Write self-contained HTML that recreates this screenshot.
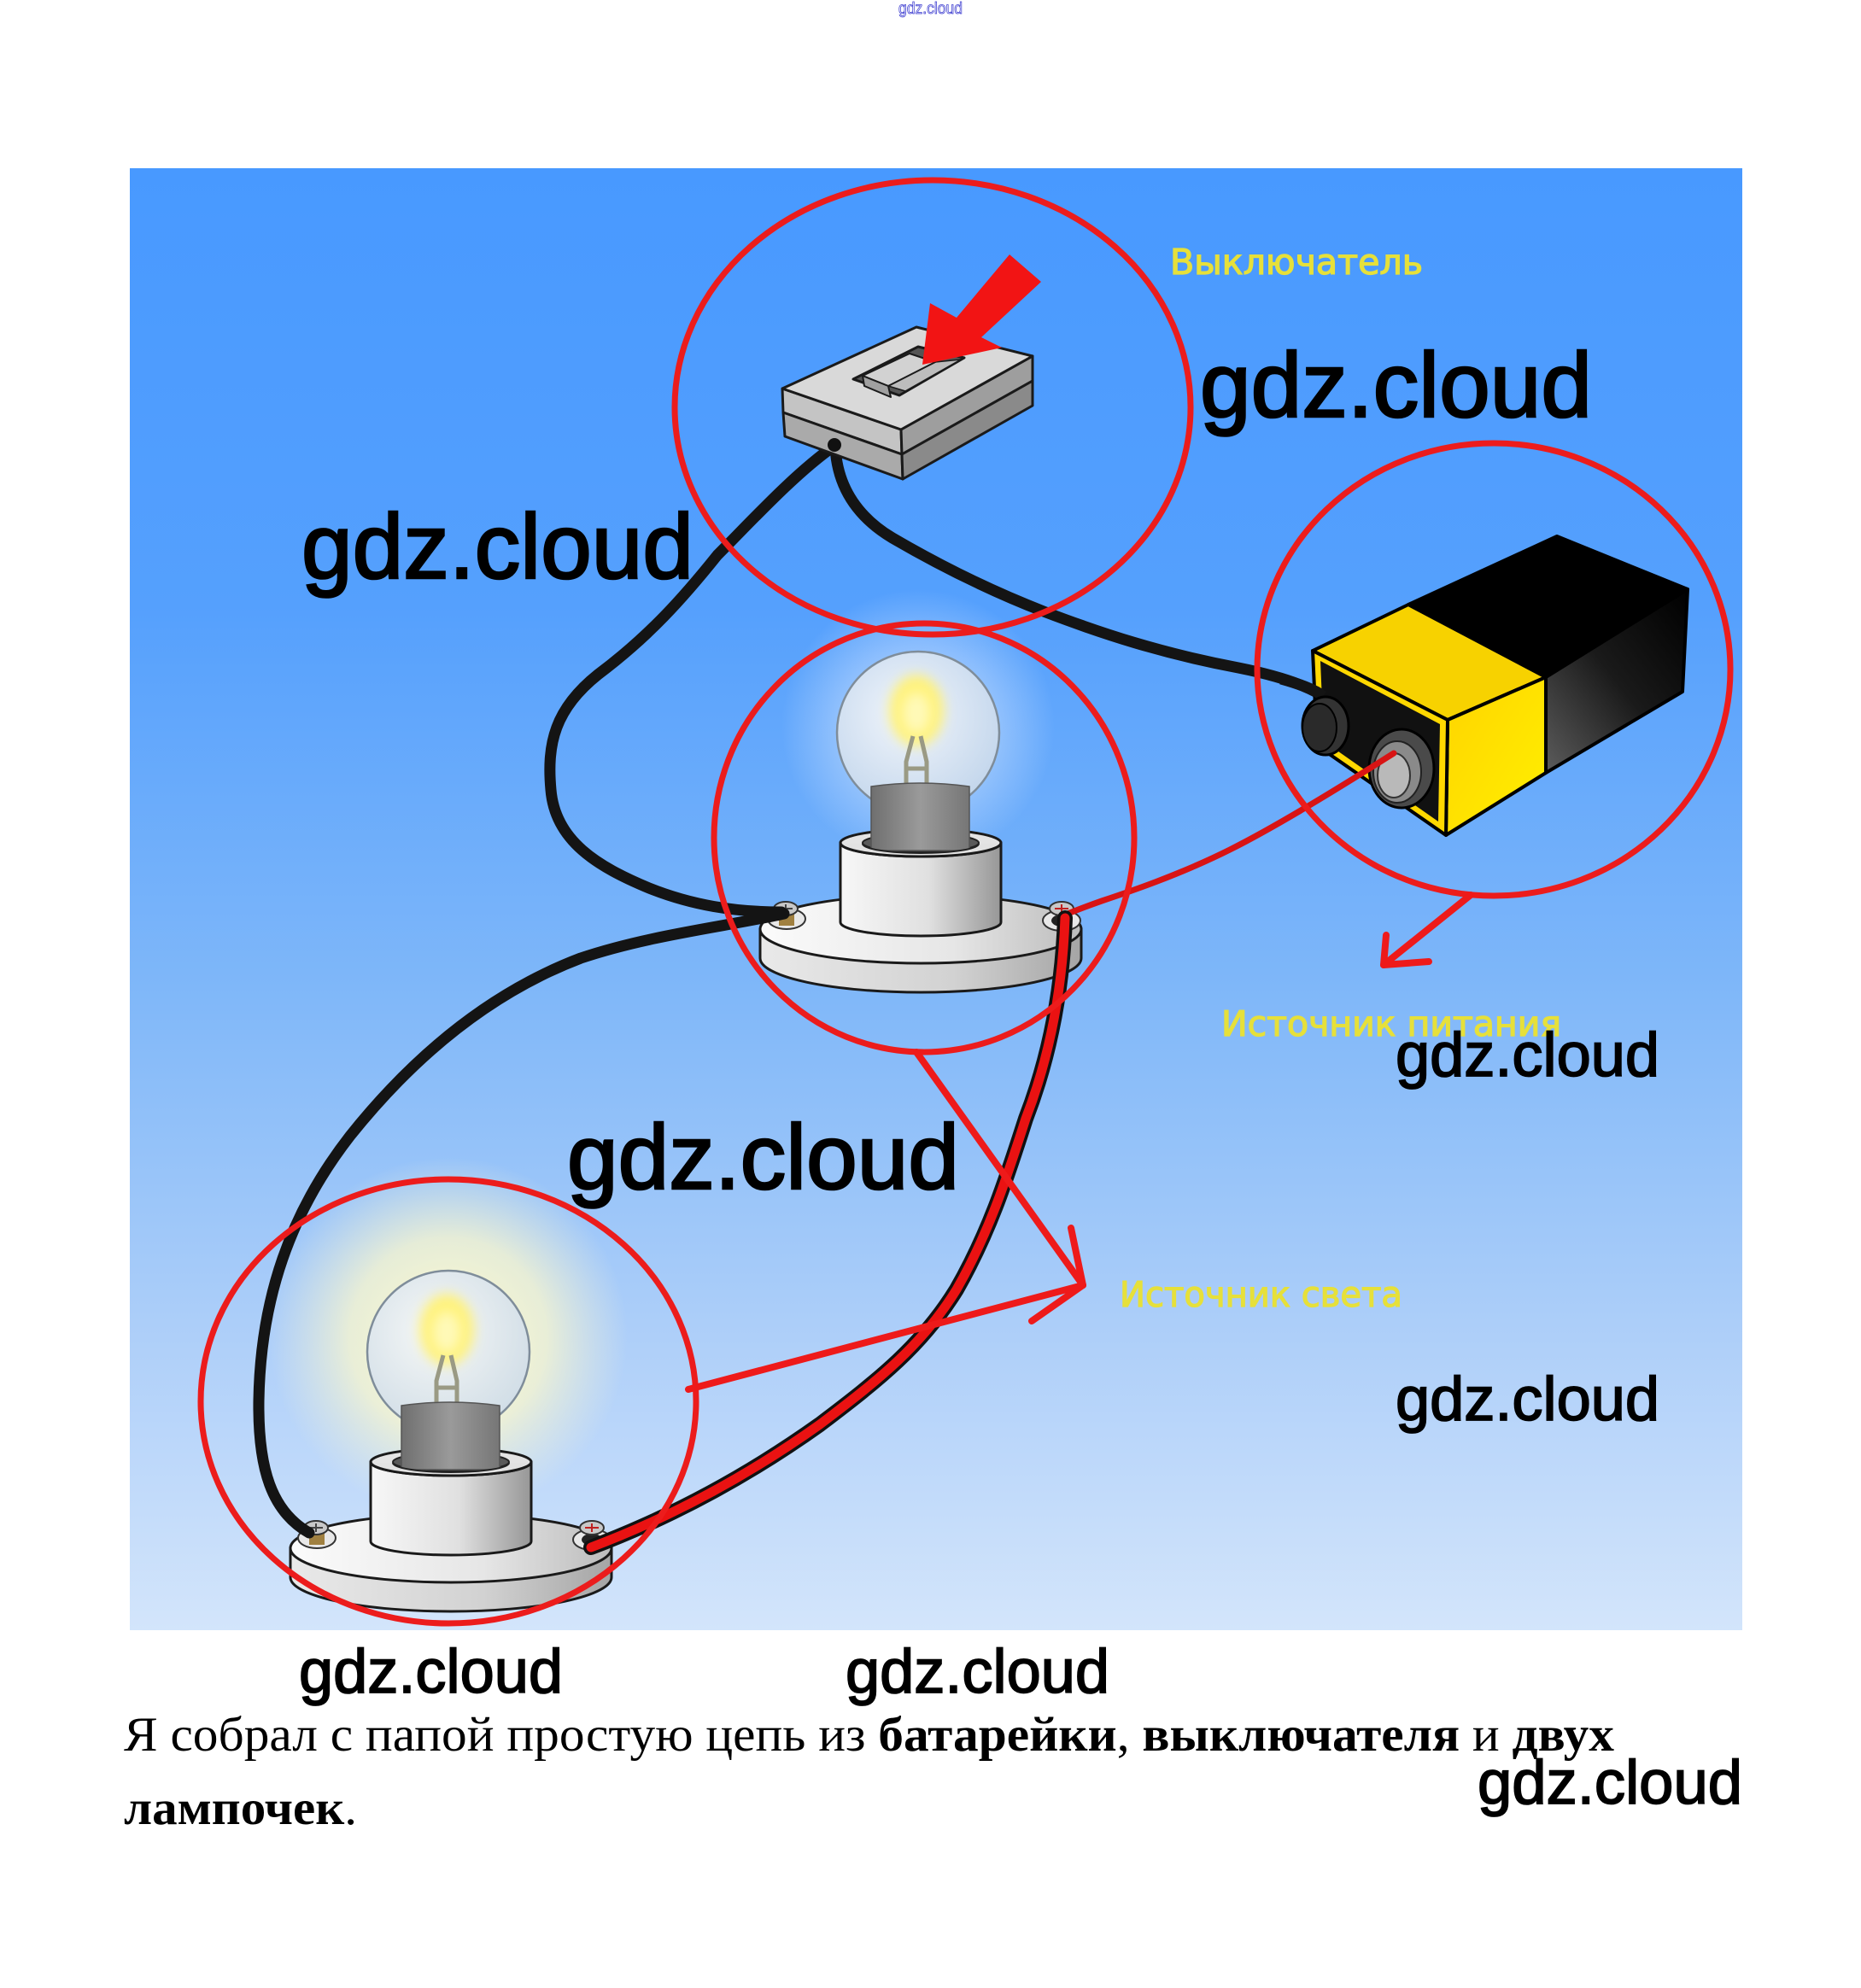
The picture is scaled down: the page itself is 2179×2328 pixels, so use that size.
<!DOCTYPE html>
<html><head><meta charset="utf-8"><style>
html,body{margin:0;padding:0;background:#fff;}
svg{display:block;}
</style></head><body>
<svg width="2179" height="2328" viewBox="0 0 2179 2328" xmlns="http://www.w3.org/2000/svg">
<defs>
 <linearGradient id="bg" x1="0" y1="0" x2="0" y2="1">
  <stop offset="0" stop-color="#4899ff"/>
  <stop offset="0.3" stop-color="#55a0fd"/>
  <stop offset="0.55" stop-color="#7db6f9"/>
  <stop offset="0.8" stop-color="#aecff9"/>
  <stop offset="1" stop-color="#d3e5fb"/>
 </linearGradient>
 <radialGradient id="glow1" cx="0.5" cy="0.5" r="0.5">
  <stop offset="0" stop-color="#f2f6ff" stop-opacity="0.75"/>
  <stop offset="0.6" stop-color="#e4eeff" stop-opacity="0.35"/>
  <stop offset="1" stop-color="#e4eeff" stop-opacity="0"/>
 </radialGradient>
 <radialGradient id="glow2" cx="0.5" cy="0.5" r="0.5">
  <stop offset="0" stop-color="#fffbd0" stop-opacity="1"/>
  <stop offset="0.55" stop-color="#fcf8cc" stop-opacity="0.75"/>
  <stop offset="1" stop-color="#f4f2d8" stop-opacity="0"/>
 </radialGradient>
 <radialGradient id="globe" cx="0.42" cy="0.38" r="0.7">
  <stop offset="0" stop-color="#f6f8fb" stop-opacity="0.9"/>
  <stop offset="1" stop-color="#c9d8e8" stop-opacity="0.85"/>
 </radialGradient>
 <linearGradient id="cap" x1="0" y1="0" x2="1" y2="0">
  <stop offset="0" stop-color="#6f6f6f"/>
  <stop offset="0.5" stop-color="#9a9a9a"/>
  <stop offset="1" stop-color="#767676"/>
 </linearGradient>
 <linearGradient id="sock" x1="0" y1="0" x2="1" y2="0">
  <stop offset="0" stop-color="#f7f7f7"/>
  <stop offset="0.55" stop-color="#e0e0e0"/>
  <stop offset="1" stop-color="#979797"/>
 </linearGradient>
 <linearGradient id="plateTop" x1="0" y1="0" x2="1" y2="0">
  <stop offset="0" stop-color="#fbfbfb"/>
  <stop offset="0.6" stop-color="#e6e6e6"/>
  <stop offset="1" stop-color="#bcbcbc"/>
 </linearGradient>
 <linearGradient id="plateSide" x1="0" y1="0" x2="1" y2="0">
  <stop offset="0" stop-color="#e9e9e9"/>
  <stop offset="0.6" stop-color="#d2d2d2"/>
  <stop offset="1" stop-color="#a5a5a5"/>
 </linearGradient>
 <linearGradient id="battSide" x1="0" y1="1" x2="1" y2="0">
  <stop offset="0" stop-color="#5c5c5c"/>
  <stop offset="0.5" stop-color="#1a1a1a"/>
  <stop offset="1" stop-color="#000"/>
 </linearGradient>
 <linearGradient id="yelSide" x1="0" y1="0" x2="1" y2="1">
  <stop offset="0" stop-color="#ffd400"/>
  <stop offset="1" stop-color="#fff000"/>
 </linearGradient>
 <filter id="blur6" x="-50%" y="-50%" width="200%" height="200%"><feGaussianBlur stdDeviation="7"/></filter>

 <g id="bulb">
  <path d="M890,1088 L890,1122 A188,40 0 0 0 1266,1122 L1266,1088 Z" fill="url(#plateSide)" stroke="#1a1a1a" stroke-width="3"/>
  <ellipse cx="1078" cy="1088" rx="188" ry="40" fill="url(#plateTop)" stroke="#1a1a1a" stroke-width="3"/>
  <ellipse cx="921" cy="1076" rx="22" ry="12" fill="#e8e8e8" stroke="#333" stroke-width="2"/>
  <rect x="912" y="1066" width="18" height="18" fill="#a08040"/>
  <ellipse cx="920" cy="1064" rx="14" ry="8" fill="#c8c8c8" stroke="#333" stroke-width="2"/>
  <path d="M912,1064 L928,1064 M920,1059 L920,1069" stroke="#444" stroke-width="2"/>
  <ellipse cx="1243" cy="1078" rx="22" ry="12" fill="#e8e8e8" stroke="#333" stroke-width="2"/>
  <ellipse cx="1243" cy="1078" rx="12" ry="7" fill="#222"/>
  <ellipse cx="1243" cy="1064" rx="14" ry="8" fill="#c8c8c8" stroke="#333" stroke-width="2"/>
  <path d="M1235,1064 L1251,1064 M1243,1059 L1243,1069" stroke="#c02020" stroke-width="2"/>
  <circle cx="1075" cy="858" r="95" fill="url(#globe)" stroke="#7f8d9a" stroke-width="2.5"/>
  <ellipse cx="1073" cy="832" rx="32" ry="42" fill="#fff27a" filter="url(#blur6)"/>
  <ellipse cx="1073" cy="835" rx="16" ry="24" fill="#fff9b8" filter="url(#blur6)"/>
  <path d="M1061,920 L1061,892 L1069,862 M1085,920 L1085,892 L1078,862 M1061,900 L1085,900" stroke="#9a9a84" stroke-width="5" fill="none"/>
  <path d="M984,987 L984,1080 A94,16 0 0 0 1172,1080 L1172,987 Z" fill="url(#sock)" stroke="#1a1a1a" stroke-width="3"/>
  <ellipse cx="1078" cy="987" rx="94" ry="16" fill="#e4e4e4" stroke="#1a1a1a" stroke-width="3"/>
  <ellipse cx="1078" cy="987" rx="68" ry="11" fill="#5a5a5a" stroke="#222" stroke-width="2"/>
  <path d="M1020,921 Q1077,913 1135,921 L1135,996 L1020,996 Z" fill="url(#cap)" stroke="#555" stroke-width="1.5"/>
  <path d="M986,988 A92,15 0 0 0 1170,988 L1146,988 A68,11 0 0 1 1010,988 Z" fill="#e2e2e2"/>
  <path d="M1010,988 A68,11 0 0 0 1146,988" fill="none" stroke="#222" stroke-width="2"/>
  <path d="M984,987 A94,16 0 0 0 1172,987" fill="none" stroke="#1a1a1a" stroke-width="3"/>
 </g>
</defs>

<rect x="0" y="0" width="2179" height="2328" fill="#fff"/>
<rect x="152" y="197" width="1888" height="1712" fill="url(#bg)"/>

<text x="1052" y="16" font-family="Liberation Sans, sans-serif" font-size="19" fill="none" stroke="#3d3dd0" stroke-width="0.8" textLength="75" lengthAdjust="spacingAndGlyphs">gdz.cloud</text>

<circle cx="1075" cy="850" r="160" fill="url(#glow1)"/>
<circle cx="525" cy="1565" r="210" fill="url(#glow2)"/>

<use href="#bulb"/>
<use href="#bulb" transform="translate(-550,725)"/>

<g fill="none" stroke="#141414" stroke-width="13" stroke-linecap="round">
 <path d="M977,522 C930,555 880,610 840,650 C800,700 760,745 700,790 C650,830 640,870 645,925 C650,985 700,1015 760,1040 C810,1060 860,1068 915,1068"/>
 <path d="M978,524 C980,560 995,600 1045,630 C1100,662 1160,692 1222,716 C1290,742 1360,765 1450,782 C1500,792 1530,803 1549,815"/>
 <path d="M918,1070 C850,1085 760,1095 680,1122 C580,1160 490,1230 410,1330 C340,1420 305,1520 303,1640 C302,1720 318,1770 362,1795"/>
</g>

<g stroke="#000" stroke-width="4" stroke-linejoin="round">
 <path d="M1649,708 L1823,628 L1976,690 L1810,793 Z" fill="#000"/>
 <path d="M1810,793 L1976,690 L1970,810 L1810,905 Z" fill="url(#battSide)"/>
 <path d="M1537,762 L1649,708 L1810,793 L1695,843 Z" fill="#f7d200"/>
 <path d="M1695,843 L1810,793 L1810,905 L1693,978 Z" fill="url(#yelSide)"/>
 <path d="M1537,762 L1695,843 L1693,978 L1542,873 Z" fill="#ffd800"/>
</g>
<path d="M1546,774 L1686,848 L1684,962 L1550,868 Z" fill="#111"/>
<path d="M1500,795 C1525,802 1540,808 1549,815" stroke="#141414" stroke-width="13" fill="none"/>
<ellipse cx="1552" cy="850" rx="27" ry="34" fill="#333" stroke="#000" stroke-width="3"/>
<ellipse cx="1545" cy="852" rx="20" ry="28" fill="#2a2a2a" stroke="#000" stroke-width="2"/>
<ellipse cx="1641" cy="900" rx="38" ry="46" fill="#4a4a4a" stroke="#000" stroke-width="3"/>
<ellipse cx="1636" cy="904" rx="28" ry="36" fill="#8a8a8a" stroke="#222" stroke-width="2"/>
<ellipse cx="1632" cy="908" rx="19" ry="26" fill="#b9b9b9" stroke="#333" stroke-width="2"/>

<path d="M1632,882 C1580,915 1500,965 1440,995 C1380,1025 1320,1045 1290,1055 C1270,1062 1255,1068 1245,1072" fill="none" stroke="#d81414" stroke-width="7" stroke-linecap="round"/>
<path d="M1247,1075 C1244,1160 1228,1240 1201,1310 C1180,1375 1160,1440 1120,1510 C1080,1575 1030,1615 960,1668 C880,1725 790,1775 692,1812" fill="none" stroke="#111" stroke-width="18" stroke-linecap="round"/>
<path d="M1247,1075 C1244,1160 1228,1240 1201,1310 C1180,1375 1160,1440 1120,1510 C1080,1575 1030,1615 960,1668 C880,1725 790,1775 692,1812" fill="none" stroke="#ea1212" stroke-width="11" stroke-linecap="round"/>

<g stroke="#1a1a1a" stroke-width="3" stroke-linejoin="round">
 <path d="M916,455 L1055,503 L1056,532 L917,483 Z" fill="#c4c4c4"/>
 <path d="M917,483 L1056,532 L1057,561 L919,511 Z" fill="#aaaaaa"/>
 <path d="M1055,503 L1209,417 L1209,446 L1056,532 Z" fill="#9e9e9e"/>
 <path d="M1056,532 L1209,446 L1209,475 L1057,561 Z" fill="#8a8a8a"/>
 <path d="M916,455 L1073,383 L1209,417 L1055,503 Z" fill="#d9d9d9"/>
 <path d="M999,444 L1075,406 L1129,419 L1053,463 Z" fill="#555"/>
 <path d="M1040,452 L1095,424 L1125,421 L1060,458 Z" fill="#bdbdbd" stroke-width="1.5"/>
 <path d="M1010,440 L1065,414 L1095,424 L1040,452 Z" fill="#d2d2d2" stroke-width="2"/>
 <path d="M1010,440 L1040,452 L1043,465 L1012,452 Z" fill="#a0a0a0" stroke-width="2"/>
</g>
<circle cx="977" cy="521" r="8" fill="#111"/>
<path d="M1080,427 L1089,355 L1120,372 L1182,298 L1219,330 L1149,395 L1173,407 Z" fill="#f21414"/>

<g fill="none" stroke="#ec1c1c" stroke-width="7">
 <ellipse cx="1092" cy="477" rx="302" ry="266"/>
 <ellipse cx="1082" cy="981" rx="246" ry="251"/>
 <ellipse cx="1749" cy="784" rx="277" ry="265"/>
 <ellipse cx="525" cy="1641" rx="290" ry="260"/>
</g>
<g fill="none" stroke="#ee1a1a" stroke-width="8" stroke-linecap="round" stroke-linejoin="round">
 <path d="M1722,1048 L1620,1130"/>
 <path d="M1623,1095 L1620,1130 L1673,1126"/>
 <path d="M1073,1232 L1268,1505"/>
 <path d="M806,1627 L1268,1505"/>
 <path d="M1254,1438 L1268,1505 L1208,1547"/>
</g>

<g font-family="DejaVu Sans Condensed, DejaVu Sans, Liberation Sans, sans-serif" font-size="41" fill="#e6e03a" stroke="#e6e03a" stroke-width="1.2">
 <text x="1370" y="321" textLength="296" lengthAdjust="spacingAndGlyphs">Выключатель</text>
 <text x="1430" y="1213" textLength="398" lengthAdjust="spacingAndGlyphs">Источник питания</text>
 <text x="1311" y="1530" textLength="331" lengthAdjust="spacingAndGlyphs">Источник света</text>
</g>

<g font-family="Liberation Sans, sans-serif" fill="#000" stroke="#000">
 <text x="1405" y="488" font-size="108" stroke-width="2.6" textLength="459" lengthAdjust="spacingAndGlyphs">gdz.cloud</text>
 <text x="353" y="677" font-size="108" stroke-width="2.6" textLength="459" lengthAdjust="spacingAndGlyphs">gdz.cloud</text>
 <text x="664" y="1392" font-size="108" stroke-width="2.6" textLength="459" lengthAdjust="spacingAndGlyphs">gdz.cloud</text>
 <text x="1634" y="1260" font-size="72" stroke-width="1.7" textLength="309" lengthAdjust="spacingAndGlyphs">gdz.cloud</text>
 <text x="1634" y="1663" font-size="72" stroke-width="1.7" textLength="309" lengthAdjust="spacingAndGlyphs">gdz.cloud</text>
 <text x="350" y="1982" font-size="72" stroke-width="1.7" textLength="309" lengthAdjust="spacingAndGlyphs">gdz.cloud</text>
 <text x="990" y="1982" font-size="72" stroke-width="1.7" textLength="309" lengthAdjust="spacingAndGlyphs">gdz.cloud</text>
 <text x="1730" y="2112" font-size="72" stroke-width="1.7" textLength="310" lengthAdjust="spacingAndGlyphs">gdz.cloud</text>
</g>

<g font-family="Liberation Serif, serif" font-size="57" fill="#000">
 <text x="145" y="2050" textLength="1745" lengthAdjust="spacingAndGlyphs">Я собрал с папой простую цепь из <tspan font-weight="bold">батарейки</tspan>, <tspan font-weight="bold">выключателя</tspan> и <tspan font-weight="bold">двух</tspan></text>
 <text x="145" y="2136" textLength="273" lengthAdjust="spacingAndGlyphs"><tspan font-weight="bold">лампочек</tspan>.</text>
</g>
</svg>
</body></html>
